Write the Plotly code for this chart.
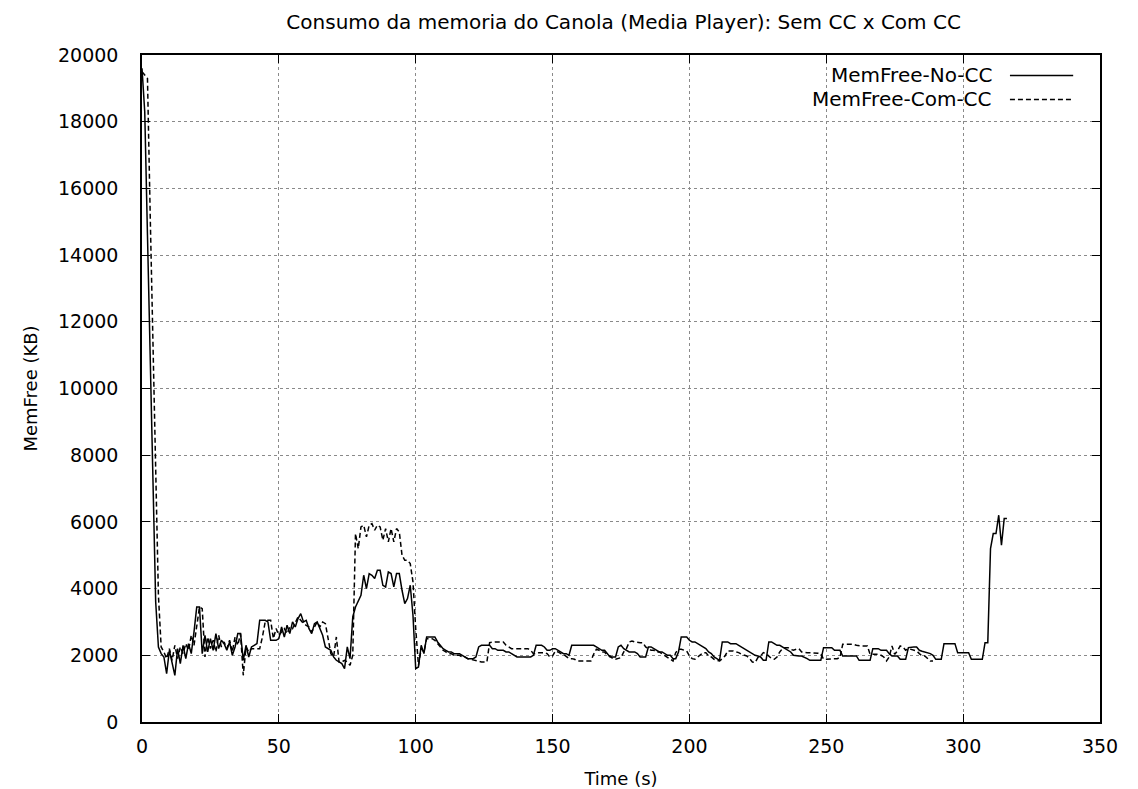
import plotly.graph_objects as go

# Free memory (KB) sampled once per second, without and with the CC module
memfree_no_cc = [
    19600, 18300, 14600, 10800, 7000, 3600, 2250, 2050, 1950, 1450,
    2150, 1750, 1400, 2200, 1750, 2300, 1900, 2350, 2050, 2700,
    3450, 3450, 2050, 2600, 2100, 2500, 2150, 2650, 2200, 2450,
    2350, 2150, 2400, 2000, 2250, 2650, 2650, 1850, 2300, 1950,
    2250, 2300, 2350, 3050, 3050, 3050, 3000, 2450, 2450, 2450,
    2500, 2850, 2550, 2900, 2650, 3000, 2850, 3100, 3250, 3000,
    3050, 2800, 2650, 2950, 3000, 2800, 2600, 2250, 2200, 2150,
    1950, 1850, 1800, 1750, 1600, 2250, 1900, 3150, 3450, 3650,
    3800, 4400, 4000, 4450, 4400, 4300, 4550, 4550, 4100, 4050,
    4500, 4450, 4050, 4450, 4450, 3950, 3550, 3700, 4100, 3200,
    1600, 1650, 2300, 2050, 2550, 2550, 2550, 2550, 2400, 2300,
    2200, 2150, 2100, 2100, 2050, 2050, 2050, 2000, 1950, 1900,
    1900, 1900, 1950, 2250, 2300, 2300, 2300, 2300, 2200, 2200,
    2150, 2150, 2150, 2100, 2100, 2050, 2000, 1950, 1950, 1950,
    1950, 1950, 1950, 2000, 2300, 2300, 2300, 2250, 2150, 2150,
    2200, 2200, 2150, 2100, 2050, 2050, 2000, 2300, 2300, 2300,
    2300, 2300, 2300, 2300, 2300, 2300, 2250, 2200, 2150, 2150,
    2050, 1950, 1950, 1950, 2250, 2300, 2200, 2150, 2100, 2100,
    2100, 2050, 1950, 1950, 1950, 2250, 2250, 2200, 2150, 2100,
    2100, 2050, 2000, 2000, 1900, 1900, 2100, 2550, 2550, 2550,
    2450, 2400, 2400, 2350, 2300, 2250, 2200, 2100, 2050, 1950,
    1900, 1850, 2400, 2400, 2400, 2350, 2350, 2350, 2300, 2250,
    2200, 2150, 2100, 2050, 2000, 1980, 1950, 1850, 1850, 2400,
    2400, 2350, 2300, 2300, 2250, 2200, 2150, 2100, 2000, 1980,
    1980, 1980, 1950, 1900, 1850, 1850, 1850, 1850, 1850, 2230,
    2230, 2230, 2230, 2150, 2150, 2150, 1980, 1980, 1980, 1980,
    1980, 1980, 1850, 1850, 1850, 1850, 1850, 2200, 2200, 2200,
    2150, 2150, 2150, 2050, 1980, 1980, 1980, 1880, 1880, 1880,
    2230, 2250, 2250, 2250, 2150, 2120, 2100, 2080, 2050, 2000,
    1880, 1880, 1880, 2350, 2350, 2350, 2350, 2350, 2080, 2080,
    2080, 2080, 2080, 1880, 1880, 1880, 1880, 1880, 2380, 2380,
    5200, 5650, 5650, 6200, 5300, 6100, 6100,
]

memfree_com_cc = [
    19500, 19400, 19300, 15200, 11200, 7500, 3800, 2250, 2100, 1900,
    2200, 1850, 2300, 1900, 2250, 2050, 2350, 2150, 2600, 2300,
    2850, 3450, 3400, 1950, 2550, 2200, 2450, 2100, 2600, 2250,
    2400, 2200, 2450, 2100, 2550, 2300, 2650, 1400, 2250, 2100,
    2200, 2200, 2200, 2200, 2550, 3000, 3050, 3050, 2500, 2800,
    2600, 2700, 2800, 2650, 2850, 2800, 3000, 3150, 3050, 2950,
    2900, 2850, 2700, 2850, 3000, 2850, 3000, 2950, 2550, 2050,
    1950, 2550, 1800, 1800, 1850, 1800, 1700, 2000, 5650, 5200,
    5850, 5900, 5550, 5900, 5950, 5750, 5900, 5850, 5450, 5800,
    5400, 5800, 5400, 5800, 5700, 5000, 4850, 4850, 4750, 4200,
    2800, 1700, 2200, 2100, 2500, 2500, 2500, 2450, 2350, 2250,
    2150, 2100, 2050, 2050, 2000, 2000, 2000, 1950, 1950, 1900,
    1880, 1850, 1830, 1800, 1800, 1800, 1800, 2380, 2400, 2400,
    2400, 2400, 2400, 2300, 2250, 2200, 2200, 2200, 2200, 2200,
    2200, 2200, 2150, 2050, 2050, 2080, 2080, 2080, 2050, 1950,
    1980, 2130, 2100, 2050, 2030, 1950, 1900, 1900, 1880, 1830,
    1830, 1830, 1830, 1830, 1830, 2030, 2180, 2150, 2100, 2100,
    2000, 1980, 1900, 1880, 1900, 1930, 2100, 2200, 2400, 2430,
    2400, 2380, 2380, 2380, 2250, 2200, 2150, 2150, 2100, 2100,
    2050, 2000, 1950, 1880, 1830, 2080, 2180, 2180, 2150, 2130,
    1980, 1900, 1880, 1950, 2030, 2080, 2080, 1980, 1950, 1880,
    1850, 1830, 1900, 1980, 2130, 2130, 2130, 2100, 2080, 2030,
    2000, 1980, 1900, 1800, 1780, 1930, 1980, 2080, 2050, 1980,
    1900, 1880, 1950, 2100, 2200, 2230, 2230, 2180, 2150, 2180,
    2200, 2100, 2080, 2080, 2080, 2080, 2070, 2060, 2050, 1880,
    1880, 1880, 1880, 1880, 1900, 1930, 2330, 2330, 2330, 2330,
    2330, 2300, 2280, 2280, 2280, 2280, 2030, 2030, 2030, 2030,
    2000, 1950, 1830, 1950, 2280, 2030, 2130, 2280, 2250, 2150,
    2200, 2180, 2150, 2130, 2050, 1980, 1980, 1900, 1830, 1830,
]

series_names = ["MemFree-No-CC", "MemFree-Com-CC"]
x_ticks = [0, 50, 100, 150, 200, 250, 300, 350]
y_ticks = list(range(0, 20001, 2000))

time_no_cc = list(range(len(memfree_no_cc)))
time_com_cc = list(range(len(memfree_com_cc)))

FONT = "DejaVu Sans, Liberation Sans, Arial, sans-serif"
TICK_SIZE = 19
AXIS_TITLE_SIZE = 18
TITLE_SIZE = 20
KEY_SIZE = 20
DASH = "5px,3px"

fig = go.Figure()
fig.add_trace(go.Scatter(
    x=time_no_cc, y=memfree_no_cc, mode="lines", name=series_names[0],
    line=dict(color="black", width=1.5), showlegend=False,
))
fig.add_trace(go.Scatter(
    x=time_com_cc, y=memfree_com_cc, mode="lines", name=series_names[1],
    line=dict(color="black", width=1.5, dash=DASH), showlegend=False,
))

axis_common = dict(
    showline=True, linecolor="black", linewidth=1.5, mirror="allticks",
    ticks="inside", ticklen=8, tickwidth=1, tickcolor="black",
    showgrid=True, gridcolor="#8a8a8a", griddash="dot", gridwidth=1,
    zeroline=False, tickformat="d", automargin=False,
    tickfont=dict(family=FONT, size=TICK_SIZE, color="black"),
)

fig.update_xaxes(range=[0, 350], tickvals=x_ticks, ticklabelstandoff=6, **axis_common,
                 title=dict(text="Time (s)", font=dict(family=FONT, size=AXIS_TITLE_SIZE, color="black"),
                            standoff=17))
fig.update_yaxes(range=[0, 20000], tickvals=y_ticks, ticklabelstandoff=18, **axis_common,
                 title=dict(text="MemFree (KB)", font=dict(family=FONT, size=AXIS_TITLE_SIZE, color="black"),
                            standoff=16))

# gnuplot-style key: label on the left, line sample on the right
legend_rows = [(series_names[0], "solid", 0.9693), (series_names[1], DASH, 0.9333)]
for label, dash, ypos in legend_rows:
    fig.add_annotation(
        xref="paper", yref="paper", x=0.889, y=ypos, text=label,
        showarrow=False, xanchor="right", yanchor="middle",
        font=dict(family=FONT, size=KEY_SIZE, color="black"),
    )
    fig.add_shape(
        type="line", xref="paper", yref="paper", x0=0.906, x1=0.972, y0=ypos, y1=ypos,
        line=dict(color="black", width=1.5, dash=dash),
    )

fig.update_layout(
    width=1138, height=789,
    margin=dict(l=142, r=38, t=55, b=67),
    paper_bgcolor="white", plot_bgcolor="white",
    title=dict(text="Consumo da memoria do Canola (Media Player): Sem CC x Com CC",
               x=0.548, xanchor="center", y=0.972, yanchor="middle",
               font=dict(family=FONT, size=TITLE_SIZE, color="black")),
    font=dict(family=FONT, color="black"),
)

fig.write_html("out.html")
